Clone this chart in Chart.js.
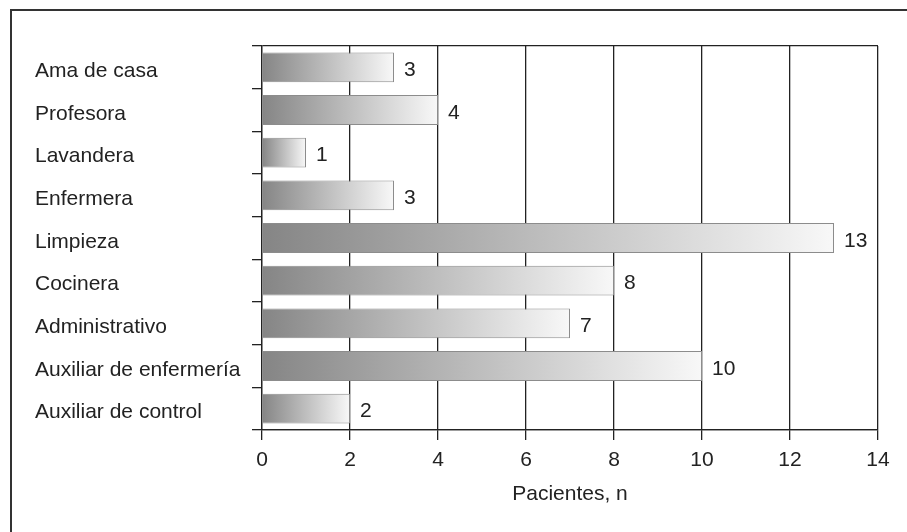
<!DOCTYPE html>
<html>
<head>
  <meta charset="UTF-8">
  <title>Pacientes por ocupación</title>
  <script src="https://cdn.jsdelivr.net/npm/chart.js"></script>
  <style>
  body {
    margin: 0;
    background: #ffffff;
    overflow: hidden;
    font-family: 'Liberation Sans', Arial, sans-serif;
  }

  .frame {
    position: absolute;
    left: 10px;
    top: 9px;
    width: 2000px;
    height: 2000px;
    border-left: 2px solid #333;
    border-top: 2px solid #333;
  }

  #chart {
    position: absolute;
    left: 0;
    top: 0;
  }
</style>
</head>
<body>

  <div class="frame"></div>
  <canvas id="chart" width="907" height="532"></canvas>

  <script>
    const categories = [
      "Ama de casa", "Profesora", "Lavandera", "Enfermera", "Limpieza",
      "Cocinera", "Administrativo", "Auxiliar de enfermería", "Auxiliar de control"
    ];
    const patients = [3, 4, 1, 3, 13, 8, 7, 10, 2];
    const xMin = 0;
    const xMax = 14;
    const xStep = 2;

    const ink = "#222";
    const font = { family: "'Liberation Sans', Arial, sans-serif", size: 21 };

    // gradient from dark gray at 0 to near white at the end of each bar
    function barGradient(ctx) {
      const chart = ctx.chart;
      const xs = chart.scales.x;
      if (!xs || !chart.chartArea || ctx.type !== "data") return "#aaa";
      const x0 = xs.getPixelForValue(0);
      const x1 = xs.getPixelForValue(ctx.raw);
      if (!isFinite(x0) || !isFinite(x1)) return "#aaa";
      const g = chart.ctx.createLinearGradient(x0, 0, x1, 0);
      g.addColorStop(0, "#858585");
      g.addColorStop(1, "#f8f8f8");
      return g;
    }

    const valueLabels = {
      id: "valueLabels",
      afterDatasetsDraw(chart) {
        const c = chart.ctx;
        const meta = chart.getDatasetMeta(0);
        c.save();
        c.font = font.size + "px " + font.family;
        c.fillStyle = ink;
        c.textAlign = "left";
        c.textBaseline = "middle";
        meta.data.forEach((bar, i) => {
          c.fillText(patients[i], bar.x + 10, bar.y + 3);
        });
        c.restore();
      }
    };

    new Chart(document.getElementById("chart"), {
      type: "bar",
      data: {
        labels: categories,
        datasets: [{
          data: patients,
          backgroundColor: barGradient,
          borderColor: "#8c8c8c",
          borderWidth: 1,
          borderSkipped: "start",
          categoryPercentage: 1,
          barPercentage: 0.7
        }]
      },
      options: {
        indexAxis: "y",
        responsive: false,
        animation: false,
        layout: { padding: { left: 35, top: 46, right: 29, bottom: 23.6 } },
        plugins: {
          legend: { display: false },
          tooltip: { enabled: false }
        },
        scales: {
          x: {
            min: xMin,
            max: xMax,
            ticks: { stepSize: xStep, color: ink, font, padding: 8 },
            grid: { color: ink, tickColor: ink, lineWidth: 1.3, tickLength: 10 },
            border: { color: ink, width: 1.3 },
            title: {
              display: true,
              text: "Pacientes, n",
              color: ink,
              font,
              padding: { top: 0, bottom: 2 }
            }
          },
          y: {
            ticks: { color: ink, font, crossAlign: "far", labelOffset: 4 },
            grid: {
              offset: true,
              color: (ctx) => (ctx.type !== "tick" || ctx.index === 0) ? ink : "rgba(0,0,0,0)",
              tickColor: ink,
              lineWidth: 1.3,
              tickLength: 10
            },
            border: { color: ink, width: 1.3 },
            afterFit: (scale) => { scale.width = 227; }
          }
        }
      },
      plugins: [valueLabels]
    });
  </script>

</body>
</html>
